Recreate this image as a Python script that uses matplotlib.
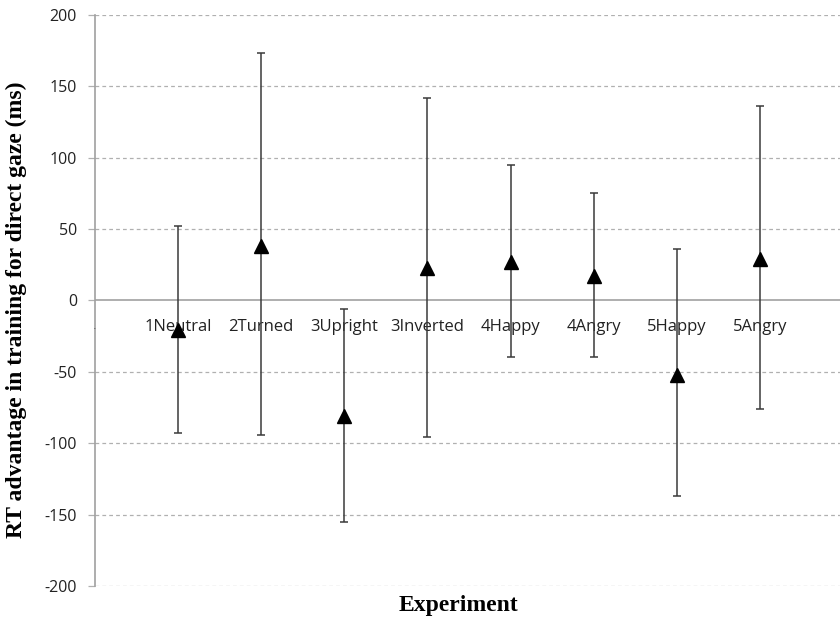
import matplotlib

matplotlib.use("Agg")
import matplotlib.pyplot as plt
import numpy as np

# Values (ms)
experiments = ["1Neutral", "2Turned", "3Upright", "3Inverted",
               "4Happy", "4Angry", "5Happy", "5Angry"]
means = np.array([-21, 38, -81, 23, 27, 17, -52, 29])
upper = np.array([52, 173, -6, 142, 95, 75, 36, 136])
lower = np.array([-93, -94, -155, -96, -40, -40, -137, -76])
y_ticks = [-200, -150, -100, -50, 0, 50, 100, 150, 200]
label_y = -19

plt.rcParams["axes.unicode_minus"] = False

W, H = 840, 625
fig = plt.figure(figsize=(W / 100, H / 100), dpi=100)
ax = fig.add_axes([95 / W, 39 / H, (840 - 95) / W, 571.3 / H])

x = np.arange(1, len(experiments) + 1)

# gridlines (dashed) and zero axis (solid)
for t in y_ticks:
    if t == 0:
        ax.axhline(0, color="#a8a8a8", lw=1.3, zorder=1)
    else:
        ax.axhline(t, color="#b0b0b0", lw=0.9, ls=(0, (3, 2.5)), zorder=0)

ax.errorbar(x, means, yerr=[means - lower, upper - means], fmt="^",
            color="black", ms=10.5, ecolor="#3a3a3a", elinewidth=1.1,
            capsize=3, capthick=1.1, zorder=3)

for xi, name in zip(x, experiments):
    ax.text(xi, label_y, name, ha="center", va="center", fontsize=12,
            family="Open Sans", color="#222222", zorder=2)
ax.text(0, label_y - 1, "·", ha="center", va="center", fontsize=8, color="#555555")

ax.set_xlim(0, (840 - 95) / 83.1)
ax.set_ylim(-200, 200)
ax.set_yticks(y_ticks)
ax.set_xticks([])
for side in ["top", "right", "bottom"]:
    ax.spines[side].set_visible(False)
ax.spines["left"].set_color("#a0a0a0")
ax.spines["left"].set_linewidth(1.2)
ax.tick_params(axis="y", length=5, width=0.9, color="#b0b0b0", pad=8,
               labelsize=11.5)
for lab in ax.get_yticklabels():
    lab.set_family("Open Sans")
    lab.set_color("#222222")

fig.text(16 / W, 1 - 310 / H, "RT advantage in training for direct gaze (ms)",
         rotation=90, ha="center", va="center", fontsize=17,
         family="Liberation Serif", weight="bold")
fig.text(458 / W, 1 - 606 / H, "Experiment", ha="center", va="center",
         fontsize=17, family="Liberation Serif", weight="bold")

fig.savefig("out.png", dpi=100)
